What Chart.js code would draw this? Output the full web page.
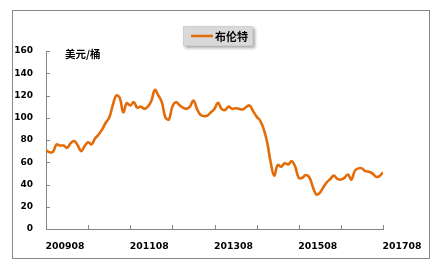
<!DOCTYPE html>
<html>
<head>
<meta charset="utf-8">
<script src="https://cdn.jsdelivr.net/npm/chart.js@4"></script>
<style>
  html, body { margin: 0; padding: 0; background: #fff; }
  canvas { display: block; }
</style>
</head>
<body>
<canvas id="c" width="442" height="267"></canvas>
<script>
// ---- data (monthly, 2009-08 .. 2017-08) ----
const seriesName = '布伦特';
const unitLabel = '美元/桶';
const tickLabels = ['200908', '201108', '201308', '201508', '201708'];
const yTicks = [0, 20, 40, 60, 80, 100, 120, 140, 160];
const brent = [
  71, 69, 69.5, 76, 75, 75, 73, 77, 79, 75.5,
  70, 74.5, 78, 76, 81.5, 85, 89.5, 95.5, 100, 111,
  120, 118, 105, 113, 111, 114, 109, 110, 108, 110,
  115, 125, 120, 114, 100.5, 98.5, 110, 114, 111.5, 109,
  108, 110, 115.5, 108, 102.5, 101.5, 102, 105, 108, 113.5,
  108, 107, 110, 108, 108.5, 108, 107.5, 109.5, 111, 106,
  101, 97.5, 90, 78, 60, 48, 57.5, 56, 59, 58,
  61, 56, 46, 46, 48.5, 46.5, 38, 31, 32.6, 37.5,
  42, 45, 48, 45, 44.5, 46, 49, 44.5, 52.5, 54.5,
  54.5, 52, 51.5, 50, 47, 47.5, 51
];

const ORANGE = '#E36C09';
const AXIS = '#868686';

const decorPlugin = {
  id: 'decor',
  beforeDraw(chart) {
    const ctx = chart.ctx;
    ctx.save();
    ctx.fillStyle = '#fff';
    ctx.fillRect(0, 0, chart.width, chart.height);
    ctx.strokeStyle = AXIS;
    ctx.lineWidth = 1;
    ctx.strokeRect(12.5, 10.5, 417, 248);
    ctx.restore();
  },
  afterDraw(chart) {
    const ctx = chart.ctx;
    const xs = chart.scales.x, ys = chart.scales.y;
    const area = chart.chartArea;
    ctx.save();
    // inside tick marks
    ctx.strokeStyle = AXIS;
    ctx.lineWidth = 1;
    ctx.beginPath();
    ys.ticks.forEach(t => {
      const py = Math.round(ys.getPixelForValue(t.value)) + 0.5;
      ctx.moveTo(area.left, py);
      ctx.lineTo(area.left + 4, py);
    });
    xs.ticks.forEach(t => {
      const px = Math.round(xs.getPixelForValue(t.value)) + 0.5;
      ctx.moveTo(px, area.bottom);
      ctx.lineTo(px, area.bottom - 4);
    });
    ctx.stroke();
    // unit label
    ctx.fillStyle = '#000';
    ctx.font = 'bold 10.5px "Noto Sans CJK SC", "DejaVu Sans", sans-serif';
    ctx.textBaseline = 'middle';
    ctx.textAlign = 'left';
    ctx.fillText(unitLabel, area.left + 19, area.top + 3);
    // legend box
    const ds = chart.data.datasets[0];
    const bx = 183, by = 26, bw = 70, bh = 20;
    ctx.save();
    ctx.shadowColor = 'rgba(0,0,0,0.35)';
    ctx.shadowBlur = 3;
    ctx.shadowOffsetX = 2;
    ctx.shadowOffsetY = 2;
    ctx.fillStyle = '#d9d9d9';
    ctx.fillRect(bx, by, bw, bh);
    ctx.restore();
    ctx.strokeStyle = '#cfcfcf';
    ctx.strokeRect(bx + 0.5, by + 0.5, bw - 1, bh - 1);
    ctx.strokeStyle = ds.borderColor;
    ctx.lineWidth = 2.5;
    ctx.beginPath();
    ctx.moveTo(191, by + bh / 2);
    ctx.lineTo(213, by + bh / 2);
    ctx.stroke();
    ctx.fillStyle = '#000';
    ctx.font = 'bold 11px "Noto Sans CJK SC", "DejaVu Sans", sans-serif';
    ctx.fillText(ds.label, 215, by + bh / 2 + 0.5);
    ctx.restore();
  }
};

new Chart(document.getElementById('c'), {
  type: 'line',
  data: {
    datasets: [{
      label: seriesName,
      data: brent.map((v, i) => ({ x: i, y: v })),
      borderColor: ORANGE,
      backgroundColor: ORANGE,
      borderWidth: 2.6,
      pointRadius: 0,
      tension: 0.4,
      fill: false
    }]
  },
  options: {
    responsive: false,
    animation: false,
    devicePixelRatio: 1,
    layout: { padding: { top: 51, right: 59, left: 0, bottom: 0 } },
    plugins: { legend: { display: false }, tooltip: { enabled: false } },
    scales: {
      x: {
        type: 'linear',
        min: 0,
        max: brent.length - 1,
        afterFit: s => { s.height = 38; },
        afterBuildTicks: s => { s.ticks = [0,12,24,36,48,60,72,84,96].map(v => ({ value: v })); },
        grid: { display: false, drawTicks: false },
        border: { display: true, color: AXIS, width: 1 },
        ticks: {
          autoSkip: false,
          maxRotation: 0,
          padding: 12,
          labelOffset: 19,
          color: '#000',
          font: { family: 'DejaVu Sans', weight: 'bold', size: 9.3 },
          callback: v => (v % 24 === 0 ? tickLabels[v / 24] : '')
        }
      },
      y: {
        min: 0,
        max: 160,
        afterFit: s => { s.width = 46; },
        afterBuildTicks: s => { s.ticks = yTicks.map(v => ({ value: v })); },
        grid: { display: false, drawTicks: false },
        border: { display: true, color: AXIS, width: 1 },
        ticks: {
          padding: 13,
          color: '#000',
          font: { family: 'DejaVu Sans', weight: 'bold', size: 9 }
        }
      }
    }
  },
  plugins: [decorPlugin]
});
</script>
</body>
</html>
